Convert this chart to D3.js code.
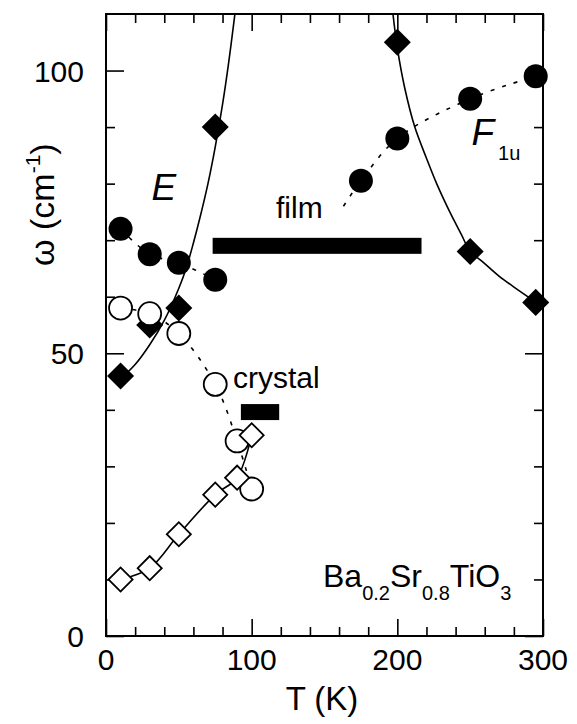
<!DOCTYPE html>
<html>
<head>
<meta charset="utf-8">
<script src="https://cdn.jsdelivr.net/npm/d3@7"></script>
<style>
  html, body { margin: 0; padding: 0; background: #fff; }
  svg { display: block; }
  text { font-family: Arial, "Liberation Sans", Helvetica, sans-serif; fill: #000; }
</style>
</head>
<body>
<svg id="chart" width="577" height="724"></svg>
<script>
// Soft-mode frequencies of Ba0.2Sr0.8TiO3 versus temperature

// E mode, film (filled circles, dotted guide)
const eFilmT = [10, 30, 50, 75];
const eFilmW = [72, 67.5, 66, 63];

// E mode, second branch (filled diamonds, solid fit)
const eDiaT = [10, 30, 50, 75];
const eDiaW = [46, 55, 58, 90];
const eFitT = [10, 20, 30, 40, 50, 55, 60, 65, 70, 75, 80, 84, 88.5];
const eFitW = [45.5, 48, 51.5, 55.8, 61.5, 65, 69.5, 74.5, 80, 86.5, 94, 101, 110];

// F1u mode, film (filled circles, dotted guide)
const fFilmT = [175, 200, 250, 295];
const fFilmW = [80.5, 88, 95, 99];
const fGuideT = [163, 175, 200, 250, 295];
const fGuideW = [76, 80.5, 88, 95, 99];

// F1u mode (filled diamonds, solid fit)
const fDiaT = [200, 250, 295];
const fDiaW = [105, 68, 59];
const fFitT = [197, 200, 205, 212, 220, 227, 236, 244, 250, 258, 270, 284, 295];
const fFitW = [110, 104, 97, 90, 84.5, 80, 75, 71, 68, 66.3, 63.6, 61, 59];

// Crystal (open circles, dotted guide)
const cCirT = [10, 30, 50, 75, 90, 100];
const cCirW = [58, 57, 53.5, 44.5, 34.5, 26];

// Crystal (open diamonds, solid fit)
const cDiaT = [10, 30, 50, 75, 90, 100];
const cDiaW = [10, 12, 18, 25, 28, 35.5];

// Horizontal bars: [T start, T end, omega]
const filmBar = [73.2, 216.6, 69];
const crystalBar = [92.6, 118.9, 39.6];

// Axes
const xDomain = [0, 300];
const yDomain = [0, 110];
const xMajor = [0, 100, 200, 300];
const xMinor = [20, 40, 60, 80, 120, 140, 160, 180, 220, 240, 260, 280];
const yMajor = [0, 50, 100];
const yMinor = [10, 20, 30, 40, 60, 70, 80, 90];

const zip = (a, b) => a.map((v, i) => [v, b[i]]);

const svg = d3.select("#chart");
const L = 106, R = 543, T = 14, B = 636;
const x = d3.scaleLinear().domain(xDomain).range([L, R]);
const y = d3.scaleLinear().domain(yDomain).range([B, T]);

svg.append("defs").append("clipPath").attr("id", "plot")
  .append("rect").attr("x", L).attr("y", T).attr("width", R - L).attr("height", B - T);

// Axes with inward ticks on all four sides
function tickAxis(axisGen, transform) {
  return svg.append("g").attr("transform", transform).call(axisGen)
    .call(g => g.select(".domain").remove())
    .call(g => g.selectAll("line").attr("stroke", "#000").attr("stroke-width", 1.6));
}
const noLabel = () => "";
tickAxis(d3.axisBottom(x).tickValues(xMajor).tickSize(-17).tickFormat(noLabel), `translate(0,${B})`);
tickAxis(d3.axisBottom(x).tickValues(xMinor).tickSize(-9).tickFormat(noLabel), `translate(0,${B})`);
tickAxis(d3.axisTop(x).tickValues(xMajor).tickSize(-17).tickFormat(noLabel), `translate(0,${T})`);
tickAxis(d3.axisTop(x).tickValues(xMinor).tickSize(-9).tickFormat(noLabel), `translate(0,${T})`);
tickAxis(d3.axisLeft(y).tickValues(yMajor).tickSize(-18).tickFormat(noLabel), `translate(${L},0)`);
tickAxis(d3.axisLeft(y).tickValues(yMinor).tickSize(-9).tickFormat(noLabel), `translate(${L},0)`);
tickAxis(d3.axisRight(y).tickValues(yMajor).tickSize(-18).tickFormat(noLabel), `translate(${R},0)`);
tickAxis(d3.axisRight(y).tickValues(yMinor).tickSize(-9).tickFormat(noLabel), `translate(${R},0)`);

svg.append("rect").attr("x", L).attr("y", T).attr("width", R - L).attr("height", B - T)
  .attr("fill", "none").attr("stroke", "#000").attr("stroke-width", 2);

// Tick labels
svg.append("g").selectAll("text").data(xMajor).join("text")
  .attr("x", d => x(d)).attr("y", 670).attr("text-anchor", "middle")
  .attr("font-size", 30).text(d => d);
svg.append("g").selectAll("text").data(yMajor).join("text")
  .attr("x", 84).attr("y", d => y(d) + 11).attr("text-anchor", "end")
  .attr("font-size", 30).text(d => d);

// Axis titles
svg.append("text").attr("x", 322).attr("y", 710).attr("text-anchor", "middle")
  .attr("font-size", 33).text("T (K)");
const yt = svg.append("text").attr("transform", "translate(54,266) rotate(-90)")
  .attr("text-anchor", "start").attr("font-size", 34);
yt.append("tspan").text("\u03c9 (cm");
yt.append("tspan").attr("font-size", 21).attr("dy", -14).text("-1");
yt.append("tspan").attr("dy", 14).text(")");

// Lines
const plot = svg.append("g").attr("clip-path", "url(#plot)");
const smooth = d3.line().x(d => x(d[0])).y(d => y(d[1])).curve(d3.curveCatmullRom.alpha(0.5));
const solidStyle = p => p.attr("fill", "none").attr("stroke", "#000").attr("stroke-width", 1.6);
const dotStyle = p => p.attr("fill", "none").attr("stroke", "#000").attr("stroke-width", 1.6)
  .attr("stroke-dasharray", "4,8");

plot.append("path").datum(zip(eFitT, eFitW)).attr("d", smooth).call(solidStyle);
plot.append("path").datum(zip(fFitT, fFitW)).attr("d", smooth).call(solidStyle);
plot.append("path").datum(zip(cDiaT, cDiaW)).attr("d", smooth).call(solidStyle);
plot.append("path").datum(zip(eFilmT, eFilmW)).attr("d", smooth).call(dotStyle);
plot.append("path").datum(zip(fGuideT, fGuideW)).attr("d", smooth).call(dotStyle);
plot.append("path").datum(zip(cCirT, cCirW)).attr("d", smooth).call(dotStyle);

// Bars
[filmBar, crystalBar].forEach(b => {
  svg.append("rect").attr("x", x(b[0])).attr("width", x(b[1]) - x(b[0]))
    .attr("y", y(b[2]) - 8).attr("height", 16).attr("fill", "#000");
});

// Markers
const diamond = d3.symbol().type(d3.symbolSquare);
function diamonds(tv, wv, size, filled) {
  svg.append("g").selectAll("path").data(zip(tv, wv)).join("path")
    .attr("d", diamond.size(size)())
    .attr("transform", d => `translate(${x(d[0])},${y(d[1])}) rotate(45)`)
    .attr("fill", filled ? "#000" : "#fff")
    .attr("stroke", "#000").attr("stroke-width", filled ? 0 : 1.8);
}
function circles(tv, wv, r, filled) {
  svg.append("g").selectAll("circle").data(zip(tv, wv)).join("circle")
    .attr("cx", d => x(d[0])).attr("cy", d => y(d[1])).attr("r", r)
    .attr("fill", filled ? "#000" : "#fff")
    .attr("stroke", "#000").attr("stroke-width", filled ? 0 : 1.8);
}
diamonds(eDiaT, eDiaW, 365, true);
diamonds(fDiaT, fDiaW, 365, true);
circles(eFilmT, eFilmW, 12, true);
circles(fFilmT, fFilmW, 12, true);
circles(cCirT, cCirW, 11.5, false);
diamonds(cDiaT, cDiaW, 290, false);

// Annotations
svg.append("text").attr("x", x(31.3)).attr("y", y(77.1)).attr("font-size", 37)
  .attr("font-style", "italic").text("E");
const ft = svg.append("text").attr("x", x(250.9)).attr("y", y(86.8)).attr("font-size", 37);
ft.append("tspan").attr("font-style", "italic").text("F");
ft.append("tspan").attr("font-size", 20).attr("dx", 4).attr("dy", 15).text("1u");
svg.append("text").attr("x", 276).attr("y", 218).attr("font-size", 30).text("film");
svg.append("text").attr("x", 233).attr("y", 388).attr("font-size", 30).text("crystal");
const form = svg.append("text").attr("x", 323).attr("y", 587).attr("font-size", 32);
[["Ba", false], ["0.2", true], ["Sr", false], ["0.8", true], ["TiO", false], ["3", true]]
  .forEach(([s, sub], i) => {
    const t = form.append("tspan").text(s);
    if (sub) t.attr("font-size", 20).attr("dy", 13);
    else if (i > 0) t.attr("dy", -13);
  });
</script>
</body>
</html>
